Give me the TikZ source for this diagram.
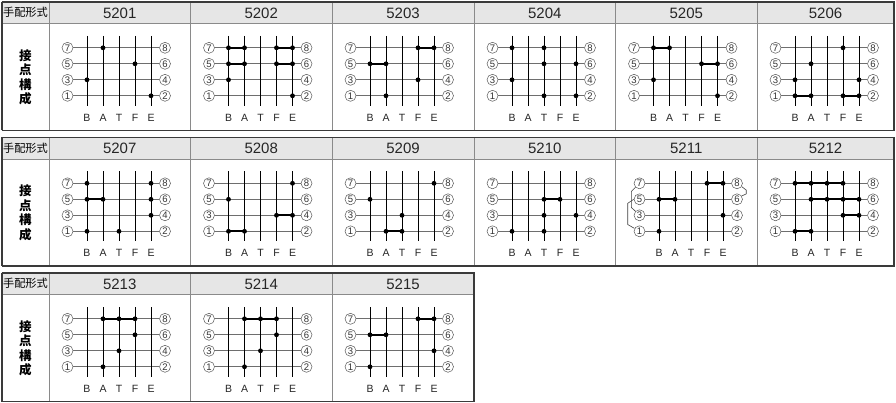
\documentclass[tikz,border=0pt]{standalone}
\usepackage{fontspec}
\setmainfont{Liberation Sans}
\newfontfamily\jp{Noto Sans CJK JP}
\usetikzlibrary{calc}
\definecolor{hdrgray}{HTML}{E6E6E6}
\definecolor{hline}{HTML}{6E6E6E}
\definecolor{sepgray}{HTML}{8A8A8A}
\definecolor{bordergray}{HTML}{3A3A3A}
\tikzset{
 hgrid/.style={draw=hline, line width=0.75pt},
 vgrid/.style={draw=black, line width=0.75pt},
 conn/.style={draw=black, line width=1.8pt},
 cnum/.style={circle, draw=black!65, line width=0.5pt, minimum size=11pt, inner sep=0pt, text=black!80, font=\fontsize{9.5}{9.5}\selectfont},
 colletter/.style={font=\fontsize{10.5}{10.5}\selectfont, inner sep=0pt, text=black!85},
 hdrnum/.style={font=\fontsize{15}{15}\selectfont, inner sep=0pt, text=black!85},
 hdrlabel/.style={font=\jp\fontsize{11.2}{11.2}\selectfont, inner sep=0pt},
 bodylabel/.style={font=\jp\bfseries\fontsize{12.5}{14.5}\selectfont, align=center, inner sep=0pt},
 sepline/.style={draw=sepgray, line width=0.8pt},
 border/.style={draw=bordergray, line width=1.3pt},
 topborder/.style={draw=bordergray, line width=1.6pt},
 bracketline/.style={draw=black!75, line width=0.6pt},
}
% one contact cell: #1 id, #2 cell left x, #3 body top y, #4 horizontal shift
\newcommand{\ccell}[4]{%
  \pgfmathsetmacro{\cx}{#2+#4}%
  \foreach \r/\ln/\rn in {1/7/8,2/5/6,3/3/4,4/1/2}{%
    \pgfmathsetmacro{\ry}{#3+24.3+16*(\r-1)}%
    \node[cnum] (#1-L\ln) at ({\cx+18.5},\ry) {\ln};
    \node[cnum] (#1-R\rn) at ({\cx+116},\ry) {\rn};
    \draw[hgrid] (#1-L\ln) -- (#1-R\rn);
  }%
  \foreach \k/\lt in {1/B,2/A,3/T,4/F,5/E}{%
    \pgfmathsetmacro{\vx}{\cx+38+16*(\k-1)}%
    \coordinate (#1-v\k t) at (\vx,{#3+12.5});
    \coordinate (#1-v\k b) at (\vx,{#3+82.5});
    \draw[vgrid] (#1-v\k t) -- (#1-v\k b);
    \node[colletter] (#1-\lt) at (\vx,{#3+94}) {\lt};
    \foreach \r in {1,2,3,4}{\coordinate (#1-\k-\r) at (\vx,{#3+24.3+16*(\r-1)});}
  }%
}
\newcommand{\ccdots}[2]{\foreach \k/\r in {#2}{\fill (#1-\k-\r) circle (2.4pt);}}
\newcommand{\ccconn}[2]{\foreach \a/\b/\r in {#2}{\draw[conn] (#1-\a-\r) -- (#1-\b-\r);}}
% table frame: #1 top y, #2 right x, #3 bottom y, #4 column separators, #5 id
\newcommand{\tframe}[5]{%
  \fill[hdrgray] (2,#1) rectangle (#2,{#1+21.5});
  \draw[sepline] (2,{#1+21.5}) -- (#2,{#1+21.5});
  \foreach \sx in {#4}{\draw[sepline] (\sx,#1) -- (\sx,#3);}
  \draw[topborder] (1.5,#1) -- ({#2+0.5},#1);
  \draw[border] (1.5,#3) -- ({#2+0.5},#3);
  \draw[border] (2,#1) -- (2,#3);
  \draw[border] (#2,#1) -- (#2,#3);
  \node[hdrlabel] (hl#5) at (25.5,{#1+10.75}) {手配形式};
  \node[bodylabel] (bl#5) at (25.5,{(#1+21.5+#3)/2+0.5}) {接\\点\\構\\成};
}
\begin{document}
\begin{tikzpicture}[x=1pt,y=-1pt]
\useasboundingbox (0,0) rectangle (896,403);
\fill[white] (0,0) rectangle (896,403);

% ---------- table 1 ----------
\tframe{2}{894}{130.5}{49,190.5,332,474,615.5,757}{1}
\node[hdrnum] (h5201) at (119.75,13) {5201};
\node[hdrnum] (h5202) at (261.25,13) {5202};
\node[hdrnum] (h5203) at (403,13) {5203};
\node[hdrnum] (h5204) at (544.75,13) {5204};
\node[hdrnum] (h5205) at (686.25,13) {5205};
\node[hdrnum] (h5206) at (825.5,13) {5206};

\ccell{5201}{49}{23.5}{0}
\ccdots{5201}{2/1,4/2,1/3,5/4}

\ccell{5202}{190.5}{23.5}{0}
\ccconn{5202}{1/2/1,4/5/1,1/2/2,4/5/2}
\ccdots{5202}{1/1,2/1,4/1,5/1,1/2,2/2,4/2,5/2,1/3,5/4}

\ccell{5203}{332}{23.5}{0}
\ccconn{5203}{4/5/1,1/2/2}
\ccdots{5203}{4/1,5/1,1/2,2/2,4/3,2/4}

\ccell{5204}{474}{23.5}{0}
\ccdots{5204}{1/1,3/1,3/2,5/2,1/3,3/4,5/4}

\ccell{5205}{615.5}{23.5}{0}
\ccconn{5205}{1/2/1,4/5/2}
\ccdots{5205}{1/1,2/1,4/2,5/2,1/3,5/4}

\ccell{5206}{757}{23.5}{0}
\ccconn{5206}{1/2/4,4/5/4}
\ccdots{5206}{4/1,2/2,1/3,5/3,1/4,2/4,4/4,5/4}

% ---------- table 2 ----------
\tframe{137.5}{894}{266}{49,190.5,332,474,615.5,757}{2}
\node[hdrnum] (h5207) at (119.75,148.5) {5207};
\node[hdrnum] (h5208) at (261.25,148.5) {5208};
\node[hdrnum] (h5209) at (403,148.5) {5209};
\node[hdrnum] (h5210) at (544.75,148.5) {5210};
\node[hdrnum] (h5211) at (686.25,148.5) {5211};
\node[hdrnum] (h5212) at (825.5,148.5) {5212};

\ccell{5207}{49}{159}{0}
\ccconn{5207}{1/2/2}
\ccdots{5207}{1/1,5/1,1/2,2/2,5/2,5/3,1/4,3/4}

\ccell{5208}{190.5}{159}{0}
\ccconn{5208}{4/5/3,1/2/4}
\ccdots{5208}{5/1,1/2,4/3,5/3,1/4,2/4}

\ccell{5209}{332}{159}{0}
\ccconn{5209}{2/3/4}
\ccdots{5209}{5/1,1/2,3/3,2/4,3/4}

\ccell{5210}{474}{159}{0}
\ccconn{5210}{3/4/2}
\ccdots{5210}{3/2,4/2,3/3,5/3,1/4,3/4}

\ccell{5211}{615.5}{159}{5.5}
\ccconn{5211}{4/5/1,1/2/2}
\ccdots{5211}{4/1,5/1,1/2,2/2,5/3,1/4}
\draw[bracketline] (5211-L7.225) -- ++(-4,4) -- ++(0,16.22) -- (5211-L3.135);
\draw[bracketline] (5211-L5.180) -- ++(-6,4) -- ++(0,21.25) -- (5211-L1.150);
\draw[bracketline] (5211-R8.-35) -- ++(4.5,3.5) -- ++(0,3.8) -- (5211-R6.35);

\ccell{5212}{757}{159}{0}
\ccconn{5212}{1/2/1,2/3/1,3/4/1,2/3/2,3/4/2,4/5/2,4/5/3,1/2/4}
\ccdots{5212}{1/1,2/1,3/1,4/1,2/2,3/2,4/2,5/2,4/3,5/3,1/4,2/4}

% ---------- table 3 ----------
\tframe{273}{474}{401.5}{49,190.5,332}{3}
\node[hdrnum] (h5213) at (119.75,284) {5213};
\node[hdrnum] (h5214) at (261.25,284) {5214};
\node[hdrnum] (h5215) at (403,284) {5215};

\ccell{5213}{49}{294.5}{0}
\ccconn{5213}{2/3/1,3/4/1}
\ccdots{5213}{2/1,3/1,4/1,4/2,3/3,2/4}

\ccell{5214}{190.5}{294.5}{0}
\ccconn{5214}{2/3/1,3/4/1}
\ccdots{5214}{2/1,3/1,4/1,4/2,3/3,2/4}

\ccell{5215}{332}{294.5}{0}
\ccconn{5215}{4/5/1,1/2/2}
\ccdots{5215}{4/1,5/1,1/2,2/2,5/3,1/4}
\end{tikzpicture}
\end{document}
